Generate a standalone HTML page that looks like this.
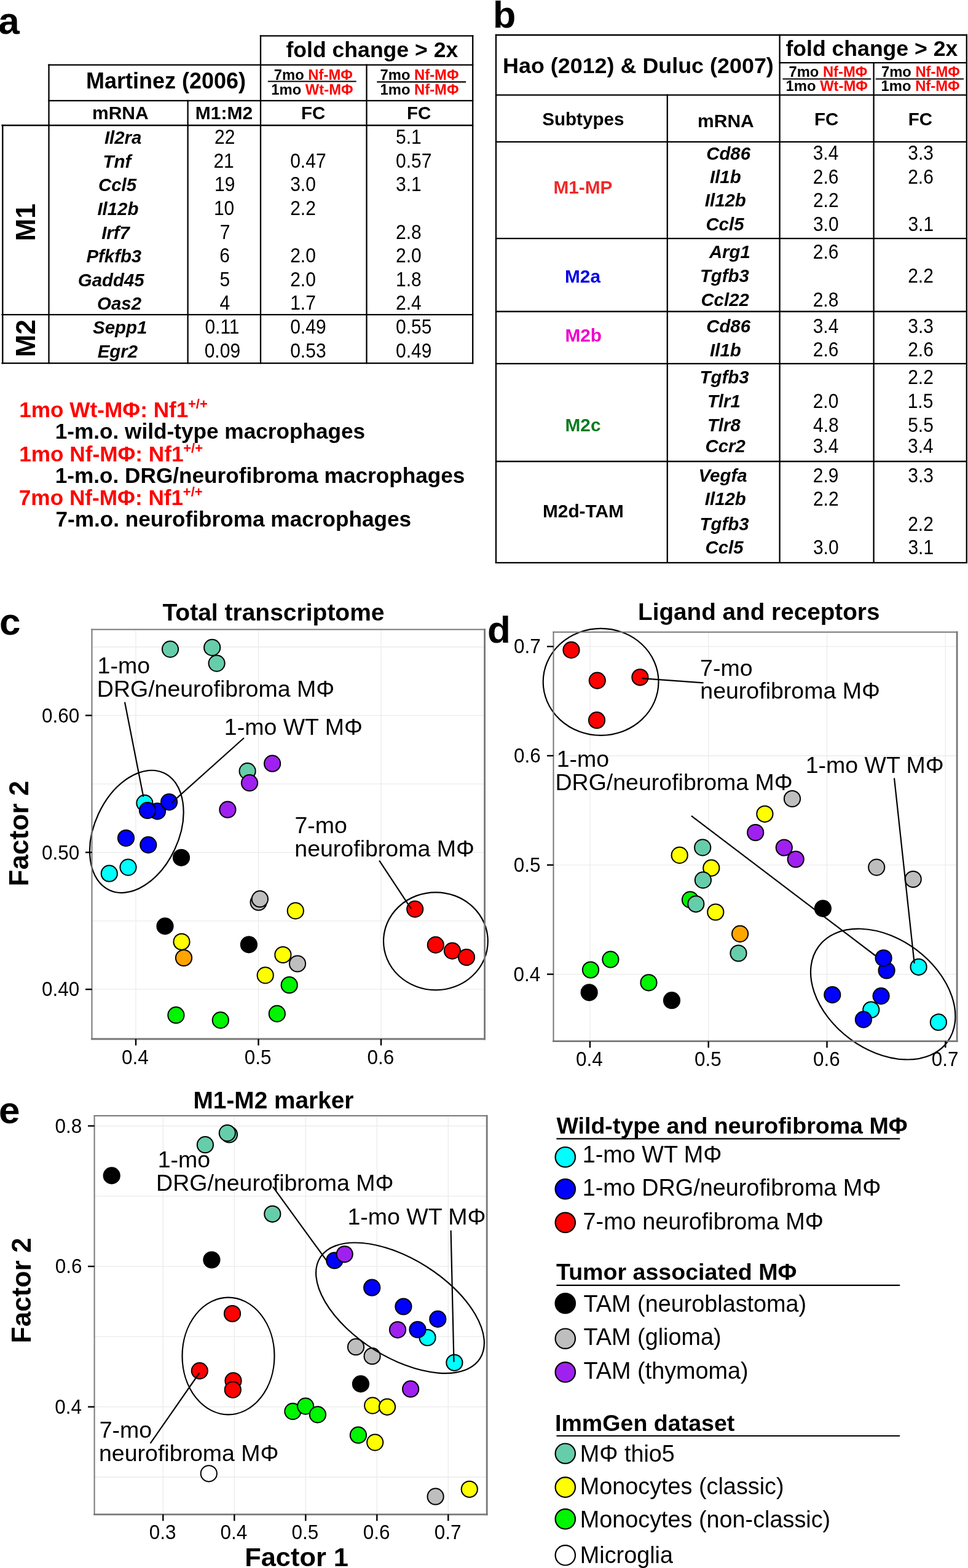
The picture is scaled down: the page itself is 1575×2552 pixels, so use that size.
<!DOCTYPE html>
<html><head><meta charset="utf-8"><title>Figure</title>
<style>html,body{margin:0;padding:0;background:#fff;overflow:hidden;width:1575px;height:2552px;}svg{display:block;}text{font-family:'Liberation Sans', Arial, Helvetica, sans-serif;}</style>
</head><body>
<svg width="1575" height="2552" viewBox="0 0 1575 2552">
<rect width="1575" height="2552" fill="#fff"/>
<text x="-2.8" y="54.5" font-size="62" font-weight="bold">a</text>
<line x1="424.0" y1="58.4" x2="769.2" y2="58.4" stroke="#000" stroke-width="2.3" stroke-linecap="square"/>
<line x1="79.5" y1="105.6" x2="769.2" y2="105.6" stroke="#000" stroke-width="2.3" stroke-linecap="square"/>
<line x1="79.5" y1="163.9" x2="769.2" y2="163.9" stroke="#000" stroke-width="2.3" stroke-linecap="square"/>
<line x1="3.5" y1="204.0" x2="769.2" y2="204.0" stroke="#000" stroke-width="2.3" stroke-linecap="square"/>
<line x1="3.5" y1="512.2" x2="769.2" y2="512.2" stroke="#000" stroke-width="2.3" stroke-linecap="square"/>
<line x1="3.5" y1="591.2" x2="769.2" y2="591.2" stroke="#000" stroke-width="2.3" stroke-linecap="square"/>
<line x1="4.3" y1="204.0" x2="4.3" y2="591.2" stroke="#000" stroke-width="2.3" stroke-linecap="square"/>
<line x1="79.5" y1="105.6" x2="79.5" y2="591.2" stroke="#000" stroke-width="2.3" stroke-linecap="square"/>
<line x1="305.6" y1="163.9" x2="305.6" y2="591.2" stroke="#000" stroke-width="2.3" stroke-linecap="square"/>
<line x1="424.0" y1="58.4" x2="424.0" y2="591.2" stroke="#000" stroke-width="2.3" stroke-linecap="square"/>
<line x1="596.5" y1="105.6" x2="596.5" y2="591.2" stroke="#000" stroke-width="2.3" stroke-linecap="square"/>
<line x1="769.2" y1="58.4" x2="769.2" y2="591.2" stroke="#000" stroke-width="2.3" stroke-linecap="square"/>
<text x="465.5" y="93.0" font-size="35.6" font-weight="bold">fold change &gt; 2x</text>
<text x="139.9" y="144.4" font-size="36" font-weight="bold">Martinez (2006)</text>
<text x="150.0" y="193.8" font-size="30" font-weight="bold">mRNA</text>
<text x="317.8" y="193.8" font-size="30" font-weight="bold">M1:M2</text>
<text x="490.0" y="193.5" font-size="29.5" font-weight="bold">FC</text>
<text x="662.1" y="193.5" font-size="29.5" font-weight="bold">FC</text>
<text x="445.8" y="129.7" font-size="23.8" font-weight="bold">7mo <tspan fill="#f00">Nf-MΦ</tspan></text>
<text x="441.3" y="153.7" font-size="23.8" font-weight="bold">1mo <tspan fill="#f00">Wt-MΦ</tspan></text>
<line x1="435.8" y1="132.5" x2="579.7" y2="132.5" stroke="#000" stroke-width="2.1" stroke-linecap="butt"/>
<text x="618.5" y="130.2" font-size="23.8" font-weight="bold">7mo <tspan fill="#f00">Nf-MΦ</tspan></text>
<text x="618.5" y="154.2" font-size="23.8" font-weight="bold">1mo <tspan fill="#f00">Nf-MΦ</tspan></text>
<line x1="613.3" y1="133.4" x2="758.1" y2="133.4" stroke="#000" stroke-width="2.1" stroke-linecap="butt"/>
<text x="169.9" y="234.2" font-size="29.4" font-weight="bold" font-style="italic">Il2ra</text>
<text transform="translate(349.0 234.2) scale(1 1.09)" font-size="30">22</text>
<text transform="translate(644.1 234.2) scale(1 1.09)" font-size="30">5.1</text>
<text x="167.5" y="272.8" font-size="29.4" font-weight="bold" font-style="italic">Tnf</text>
<text transform="translate(347.4 272.8) scale(1 1.09)" font-size="30">21</text>
<text transform="translate(472.2 272.8) scale(1 1.09)" font-size="30">0.47</text>
<text transform="translate(644.1 272.8) scale(1 1.09)" font-size="30">0.57</text>
<text x="160.0" y="311.4" font-size="29.4" font-weight="bold" font-style="italic">Ccl5</text>
<text transform="translate(349.0 311.4) scale(1 1.09)" font-size="30">19</text>
<text transform="translate(472.2 311.4) scale(1 1.09)" font-size="30">3.0</text>
<text transform="translate(644.1 311.4) scale(1 1.09)" font-size="30">3.1</text>
<text x="158.4" y="350.0" font-size="29.4" font-weight="bold" font-style="italic">Il12b</text>
<text transform="translate(347.9 350.0) scale(1 1.09)" font-size="30">10</text>
<text transform="translate(472.2 350.0) scale(1 1.09)" font-size="30">2.2</text>
<text x="165.2" y="388.6" font-size="29.4" font-weight="bold" font-style="italic">Irf7</text>
<text transform="translate(357.8 388.6) scale(1 1.09)" font-size="30">7</text>
<text transform="translate(644.1 388.6) scale(1 1.09)" font-size="30">2.8</text>
<text x="140.4" y="427.2" font-size="29.4" font-weight="bold" font-style="italic">Pfkfb3</text>
<text transform="translate(357.3 427.2) scale(1 1.09)" font-size="30">6</text>
<text transform="translate(472.2 427.2) scale(1 1.09)" font-size="30">2.0</text>
<text transform="translate(644.1 427.2) scale(1 1.09)" font-size="30">2.0</text>
<text x="126.8" y="465.8" font-size="29.4" font-weight="bold" font-style="italic">Gadd45</text>
<text transform="translate(357.4 465.8) scale(1 1.09)" font-size="30">5</text>
<text transform="translate(472.2 465.8) scale(1 1.09)" font-size="30">2.0</text>
<text transform="translate(644.1 465.8) scale(1 1.09)" font-size="30">1.8</text>
<text x="158.1" y="504.4" font-size="29.4" font-weight="bold" font-style="italic">Oas2</text>
<text transform="translate(357.4 504.4) scale(1 1.09)" font-size="30">4</text>
<text transform="translate(472.2 504.4) scale(1 1.09)" font-size="30">1.7</text>
<text transform="translate(644.1 504.4) scale(1 1.09)" font-size="30">2.4</text>
<text x="151.1" y="543.0" font-size="29.4" font-weight="bold" font-style="italic">Sepp1</text>
<text transform="translate(333.4 543.0) scale(1 1.09)" font-size="30">0.11</text>
<text transform="translate(472.2 543.0) scale(1 1.09)" font-size="30">0.49</text>
<text transform="translate(644.1 543.0) scale(1 1.09)" font-size="30">0.55</text>
<text x="158.7" y="581.6" font-size="29.4" font-weight="bold" font-style="italic">Egr2</text>
<text transform="translate(332.7 581.6) scale(1 1.09)" font-size="30">0.09</text>
<text transform="translate(472.2 581.6) scale(1 1.09)" font-size="30">0.53</text>
<text transform="translate(644.1 581.6) scale(1 1.09)" font-size="30">0.49</text>
<text transform="translate(56.5 361.0) rotate(-90)" x="-31.5" y="0" font-size="44" font-weight="bold">M1</text>
<text transform="translate(56.5 550.1) rotate(-90)" x="-31.1" y="0" font-size="44" font-weight="bold">M2</text>
<text x="31.2" y="679.4" font-size="35.2" font-weight="bold" fill="#f00">1mo Wt-MΦ: Nf1</text>
<text x="306.0" y="665.4" font-size="22" font-weight="bold" fill="#f00">+/+</text>
<text x="89.7" y="714.2" font-size="35.2" font-weight="bold">1-m.o. wild-type macrophages</text>
<text x="31.2" y="750.6" font-size="35.2" font-weight="bold" fill="#f00">1mo Nf-MΦ: Nf1</text>
<text x="298.2" y="736.6" font-size="22" font-weight="bold" fill="#f00">+/+</text>
<text x="89.7" y="786.2" font-size="35.2" font-weight="bold">1-m.o. DRG/neurofibroma macrophages</text>
<text x="30.8" y="822.1" font-size="35.2" font-weight="bold" fill="#f00">7mo Nf-MΦ: Nf1</text>
<text x="297.8" y="808.1" font-size="22" font-weight="bold" fill="#f00">+/+</text>
<text x="90.4" y="857.2" font-size="35.2" font-weight="bold">7-m.o. neurofibroma macrophages</text>
<text x="802.1" y="45.0" font-size="61" font-weight="bold">b</text>
<line x1="807.0" y1="57.0" x2="1572.8" y2="57.0" stroke="#000" stroke-width="2.3" stroke-linecap="square"/>
<line x1="1268.6" y1="102.2" x2="1572.8" y2="102.2" stroke="#000" stroke-width="2.3" stroke-linecap="square"/>
<line x1="807.0" y1="154.6" x2="1572.8" y2="154.6" stroke="#000" stroke-width="2.3" stroke-linecap="square"/>
<line x1="807.0" y1="230.8" x2="1572.8" y2="230.8" stroke="#000" stroke-width="2.3" stroke-linecap="square"/>
<line x1="807.0" y1="388.2" x2="1572.8" y2="388.2" stroke="#000" stroke-width="2.3" stroke-linecap="square"/>
<line x1="807.0" y1="507.0" x2="1572.8" y2="507.0" stroke="#000" stroke-width="2.3" stroke-linecap="square"/>
<line x1="807.0" y1="591.8" x2="1572.8" y2="591.8" stroke="#000" stroke-width="2.3" stroke-linecap="square"/>
<line x1="807.0" y1="751.0" x2="1572.8" y2="751.0" stroke="#000" stroke-width="2.3" stroke-linecap="square"/>
<line x1="807.0" y1="915.8" x2="1572.8" y2="915.8" stroke="#000" stroke-width="2.3" stroke-linecap="square"/>
<line x1="807.0" y1="57.0" x2="807.0" y2="915.8" stroke="#000" stroke-width="2.3" stroke-linecap="square"/>
<line x1="1268.6" y1="57.0" x2="1268.6" y2="915.8" stroke="#000" stroke-width="2.3" stroke-linecap="square"/>
<line x1="1421.6" y1="102.2" x2="1421.6" y2="915.8" stroke="#000" stroke-width="2.3" stroke-linecap="square"/>
<line x1="1572.8" y1="57.0" x2="1572.8" y2="915.8" stroke="#000" stroke-width="2.3" stroke-linecap="square"/>
<line x1="1085.8" y1="154.6" x2="1085.8" y2="915.8" stroke="#000" stroke-width="2.3" stroke-linecap="square"/>
<text x="818.0" y="118.7" font-size="35.9" font-weight="bold">Hao (2012) &amp; Duluc (2007)</text>
<text x="1278.5" y="90.6" font-size="35.6" font-weight="bold">fold change &gt; 2x</text>
<text x="1283.4" y="124.6" font-size="23.8" font-weight="bold">7mo <tspan fill="#f00">Nf-MΦ</tspan></text>
<text x="1278.6" y="148.3" font-size="23.8" font-weight="bold">1mo <tspan fill="#f00">Wt-MΦ</tspan></text>
<line x1="1273.5" y1="128.5" x2="1417.3" y2="128.5" stroke="#000" stroke-width="2.1" stroke-linecap="butt"/>
<text x="1433.9" y="124.6" font-size="23.8" font-weight="bold">7mo <tspan fill="#f00">Nf-MΦ</tspan></text>
<text x="1433.6" y="148.3" font-size="23.8" font-weight="bold">1mo <tspan fill="#f00">Nf-MΦ</tspan></text>
<line x1="1424.6" y1="128.5" x2="1568.0" y2="128.5" stroke="#000" stroke-width="2.1" stroke-linecap="butt"/>
<text x="882.2" y="203.5" font-size="29.6" font-weight="bold">Subtypes</text>
<text x="1135.1" y="206.7" font-size="30" font-weight="bold">mRNA</text>
<text x="1325.0" y="203.5" font-size="29.5" font-weight="bold">FC</text>
<text x="1477.8" y="203.5" font-size="29.5" font-weight="bold">FC</text>
<text x="1149.2" y="259.6" font-size="29.4" font-weight="bold" font-style="italic">Cd86</text>
<text transform="translate(1322.7 260.4) scale(1 1.09)" font-size="30">3.4</text>
<text transform="translate(1477.3 260.4) scale(1 1.09)" font-size="30">3.3</text>
<text x="1155.0" y="298.1" font-size="29.4" font-weight="bold" font-style="italic">Il1b</text>
<text transform="translate(1322.8 298.9) scale(1 1.09)" font-size="30">2.6</text>
<text transform="translate(1477.2 298.9) scale(1 1.09)" font-size="30">2.6</text>
<text x="1146.8" y="336.2" font-size="29.4" font-weight="bold" font-style="italic">Il12b</text>
<text transform="translate(1322.9 337.0) scale(1 1.09)" font-size="30">2.2</text>
<text x="1148.4" y="374.8" font-size="29.4" font-weight="bold" font-style="italic">Ccl5</text>
<text transform="translate(1322.9 375.6) scale(1 1.09)" font-size="30">3.0</text>
<text transform="translate(1477.4 375.6) scale(1 1.09)" font-size="30">3.1</text>
<text x="1153.9" y="419.8" font-size="29.4" font-weight="bold" font-style="italic">Arg1</text>
<text transform="translate(1322.8 420.6) scale(1 1.09)" font-size="30">2.6</text>
<text x="1138.9" y="459.0" font-size="29.4" font-weight="bold" font-style="italic">Tgfb3</text>
<text transform="translate(1477.2 459.8) scale(1 1.09)" font-size="30">2.2</text>
<text x="1140.4" y="498.3" font-size="29.4" font-weight="bold" font-style="italic">Ccl22</text>
<text transform="translate(1322.7 499.1) scale(1 1.09)" font-size="30">2.8</text>
<text x="1149.2" y="540.8" font-size="29.4" font-weight="bold" font-style="italic">Cd86</text>
<text transform="translate(1322.7 541.6) scale(1 1.09)" font-size="30">3.4</text>
<text transform="translate(1477.3 541.6) scale(1 1.09)" font-size="30">3.3</text>
<text x="1155.1" y="579.6" font-size="29.4" font-weight="bold" font-style="italic">Il1b</text>
<text transform="translate(1322.8 580.4) scale(1 1.09)" font-size="30">2.6</text>
<text transform="translate(1477.2 580.4) scale(1 1.09)" font-size="30">2.6</text>
<text x="1138.5" y="624.0" font-size="29.4" font-weight="bold" font-style="italic">Tgfb3</text>
<text transform="translate(1477.2 624.8) scale(1 1.09)" font-size="30">2.2</text>
<text x="1150.9" y="663.0" font-size="29.4" font-weight="bold" font-style="italic">Tlr1</text>
<text transform="translate(1322.7 663.8) scale(1 1.09)" font-size="30">2.0</text>
<text transform="translate(1476.7 663.8) scale(1 1.09)" font-size="30">1.5</text>
<text x="1150.9" y="702.0" font-size="29.4" font-weight="bold" font-style="italic">Tlr8</text>
<text transform="translate(1323.1 702.8) scale(1 1.09)" font-size="30">4.8</text>
<text transform="translate(1477.2 702.8) scale(1 1.09)" font-size="30">5.5</text>
<text x="1147.5" y="735.7" font-size="29.4" font-weight="bold" font-style="italic">Ccr2</text>
<text transform="translate(1322.7 736.5) scale(1 1.09)" font-size="30">3.4</text>
<text transform="translate(1477.1 736.5) scale(1 1.09)" font-size="30">3.4</text>
<text x="1136.6" y="784.0" font-size="29.4" font-weight="bold" font-style="italic">Vegfa</text>
<text transform="translate(1322.8 784.8) scale(1 1.09)" font-size="30">2.9</text>
<text transform="translate(1477.3 784.8) scale(1 1.09)" font-size="30">3.3</text>
<text x="1146.8" y="822.4" font-size="29.4" font-weight="bold" font-style="italic">Il12b</text>
<text transform="translate(1322.9 823.2) scale(1 1.09)" font-size="30">2.2</text>
<text x="1138.5" y="862.9" font-size="29.4" font-weight="bold" font-style="italic">Tgfb3</text>
<text transform="translate(1477.2 863.7) scale(1 1.09)" font-size="30">2.2</text>
<text x="1147.5" y="900.8" font-size="29.4" font-weight="bold" font-style="italic">Ccl5</text>
<text transform="translate(1322.9 901.6) scale(1 1.09)" font-size="30">3.0</text>
<text transform="translate(1477.4 901.6) scale(1 1.09)" font-size="30">3.1</text>
<text x="900.4" y="315.2" font-size="29.8" font-weight="bold" fill="#f02828">M1-MP</text>
<text x="919.0" y="459.5" font-size="29.8" font-weight="bold" fill="#0000e6">M2a</text>
<text x="919.4" y="555.8" font-size="29.8" font-weight="bold" fill="#ee00cc">M2b</text>
<text x="919.5" y="701.9" font-size="29.8" font-weight="bold" fill="#0b7a22">M2c</text>
<text x="883.0" y="842.0" font-size="29.8" font-weight="bold">M2d-TAM</text>
<text x="-1.0" y="1032.5" font-size="62" font-weight="bold">c</text>
<text x="264.4" y="1009.5" font-size="39" font-weight="bold">Total transcriptome</text>
<rect x="149.5" y="1024.6" width="639.1" height="666.4000000000001" fill="#fff"/>
<line x1="221.0" y1="1024.6" x2="221.0" y2="1691.0" stroke="#ebebeb" stroke-width="1.3" stroke-linecap="butt"/>
<line x1="420.5" y1="1024.6" x2="420.5" y2="1691.0" stroke="#ebebeb" stroke-width="1.3" stroke-linecap="butt"/>
<line x1="620.0" y1="1024.6" x2="620.0" y2="1691.0" stroke="#ebebeb" stroke-width="1.3" stroke-linecap="butt"/>
<line x1="149.5" y1="1053.0" x2="788.6" y2="1053.0" stroke="#ebebeb" stroke-width="1.3" stroke-linecap="butt"/>
<line x1="149.5" y1="1164.4" x2="788.6" y2="1164.4" stroke="#ebebeb" stroke-width="1.3" stroke-linecap="butt"/>
<line x1="149.5" y1="1275.8" x2="788.6" y2="1275.8" stroke="#ebebeb" stroke-width="1.3" stroke-linecap="butt"/>
<line x1="149.5" y1="1387.3" x2="788.6" y2="1387.3" stroke="#ebebeb" stroke-width="1.3" stroke-linecap="butt"/>
<line x1="149.5" y1="1498.8" x2="788.6" y2="1498.8" stroke="#ebebeb" stroke-width="1.3" stroke-linecap="butt"/>
<line x1="149.5" y1="1610.2" x2="788.6" y2="1610.2" stroke="#ebebeb" stroke-width="1.3" stroke-linecap="butt"/>
<circle cx="277.0" cy="1056.6" r="13.1" fill="#66cdaa" stroke="#000" stroke-width="2.0"/>
<circle cx="345.2" cy="1053.9" r="13.1" fill="#66cdaa" stroke="#000" stroke-width="2.0"/>
<circle cx="352.6" cy="1079.6" r="13.1" fill="#66cdaa" stroke="#000" stroke-width="2.0"/>
<circle cx="402.6" cy="1255.1" r="13.1" fill="#66cdaa" stroke="#000" stroke-width="2.0"/>
<circle cx="406.0" cy="1274.2" r="13.1" fill="#a020f0" stroke="#000" stroke-width="2.0"/>
<circle cx="443.1" cy="1242.7" r="13.1" fill="#a020f0" stroke="#000" stroke-width="2.0"/>
<circle cx="370.4" cy="1317.7" r="13.1" fill="#a020f0" stroke="#000" stroke-width="2.0"/>
<circle cx="235.4" cy="1307.1" r="13.1" fill="#00ffff" stroke="#000" stroke-width="2.0"/>
<circle cx="256.0" cy="1320.4" r="13.1" fill="#0000ff" stroke="#000" stroke-width="2.0"/>
<circle cx="275.1" cy="1305.3" r="13.1" fill="#0000ff" stroke="#000" stroke-width="2.0"/>
<circle cx="240.0" cy="1319.0" r="13.1" fill="#0000ff" stroke="#000" stroke-width="2.0"/>
<circle cx="205.0" cy="1364.0" r="13.1" fill="#0000ff" stroke="#000" stroke-width="2.0"/>
<circle cx="241.3" cy="1375.1" r="13.1" fill="#0000ff" stroke="#000" stroke-width="2.0"/>
<circle cx="208.5" cy="1411.6" r="13.1" fill="#00ffff" stroke="#000" stroke-width="2.0"/>
<circle cx="177.8" cy="1421.7" r="13.1" fill="#00ffff" stroke="#000" stroke-width="2.0"/>
<circle cx="295.0" cy="1395.8" r="13.1" fill="#000000" stroke="#000" stroke-width="2.0"/>
<circle cx="268.5" cy="1507.4" r="13.1" fill="#000000" stroke="#000" stroke-width="2.0"/>
<circle cx="404.9" cy="1537.4" r="13.1" fill="#000000" stroke="#000" stroke-width="2.0"/>
<circle cx="420.6" cy="1468.5" r="13.1" fill="#bebebe" stroke="#000" stroke-width="2.0"/>
<circle cx="422.9" cy="1463.2" r="13.1" fill="#bebebe" stroke="#000" stroke-width="2.0"/>
<circle cx="295.5" cy="1532.8" r="13.1" fill="#ffff00" stroke="#000" stroke-width="2.0"/>
<circle cx="299.0" cy="1559.0" r="13.1" fill="#ffa500" stroke="#000" stroke-width="2.0"/>
<circle cx="480.8" cy="1482.4" r="13.1" fill="#ffff00" stroke="#000" stroke-width="2.0"/>
<circle cx="460.4" cy="1554.0" r="13.1" fill="#ffff00" stroke="#000" stroke-width="2.0"/>
<circle cx="484.0" cy="1568.5" r="13.1" fill="#bebebe" stroke="#000" stroke-width="2.0"/>
<circle cx="431.7" cy="1587.4" r="13.1" fill="#ffff00" stroke="#000" stroke-width="2.0"/>
<circle cx="470.7" cy="1603.2" r="13.1" fill="#00f500" stroke="#000" stroke-width="2.0"/>
<circle cx="286.4" cy="1652.2" r="13.1" fill="#00f500" stroke="#000" stroke-width="2.0"/>
<circle cx="358.8" cy="1660.4" r="13.1" fill="#00f500" stroke="#000" stroke-width="2.0"/>
<circle cx="450.8" cy="1649.9" r="13.1" fill="#00f500" stroke="#000" stroke-width="2.0"/>
<circle cx="675.2" cy="1479.6" r="13.1" fill="#ff0000" stroke="#000" stroke-width="2.0"/>
<circle cx="708.8" cy="1537.9" r="13.1" fill="#ff0000" stroke="#000" stroke-width="2.0"/>
<circle cx="735.9" cy="1547.6" r="13.1" fill="#ff0000" stroke="#000" stroke-width="2.0"/>
<circle cx="759.0" cy="1558.0" r="13.1" fill="#ff0000" stroke="#000" stroke-width="2.0"/>
<ellipse cx="222.3" cy="1353.4" rx="68.4" ry="105.2" transform="rotate(24.96 222.3 1353.4)" fill="none" stroke="#000" stroke-width="2.2"/>
<ellipse cx="708.9" cy="1531.8" rx="84.9" ry="79.5" transform="rotate(0.00 708.9 1531.8)" fill="none" stroke="#000" stroke-width="2.2"/>
<line x1="203.0" y1="1142.7" x2="233.3" y2="1296.7" stroke="#000" stroke-width="2.2" stroke-linecap="butt"/>
<line x1="397.0" y1="1201.0" x2="279.4" y2="1306.4" stroke="#000" stroke-width="2.2" stroke-linecap="butt"/>
<line x1="617.1" y1="1400.6" x2="668.8" y2="1478.9" stroke="#000" stroke-width="2.2" stroke-linecap="butt"/>
<text x="158.6" y="1096.2" font-size="37.5">1-mo</text>
<text x="157.8" y="1134.0" font-size="37.5">DRG/neurofibroma MΦ</text>
<text x="364.8" y="1196.3" font-size="37.5">1-mo WT MΦ</text>
<text x="479.4" y="1356.0" font-size="37.5">7-mo</text>
<text x="479.3" y="1393.7" font-size="37.5">neurofibroma MΦ</text>
<line x1="149.5" y1="1024.6" x2="788.6" y2="1024.6" stroke="#777777" stroke-width="2.0" stroke-linecap="square"/>
<line x1="149.5" y1="1024.6" x2="149.5" y2="1691.0" stroke="#777777" stroke-width="2.0" stroke-linecap="square"/>
<line x1="788.6" y1="1024.6" x2="788.6" y2="1691.0" stroke="#777777" stroke-width="2.8" stroke-linecap="square"/>
<line x1="149.5" y1="1691.0" x2="788.6" y2="1691.0" stroke="#777777" stroke-width="2.8" stroke-linecap="square"/>
<line x1="139.0" y1="1164.4" x2="149.5" y2="1164.4" stroke="#000" stroke-width="2.4" stroke-linecap="butt"/>
<text transform="translate(68.0 1175.6) scale(1 1.075)" font-size="31.5">0.60</text>
<line x1="139.0" y1="1387.3" x2="149.5" y2="1387.3" stroke="#000" stroke-width="2.4" stroke-linecap="butt"/>
<text transform="translate(68.0 1398.5) scale(1 1.075)" font-size="31.5">0.50</text>
<line x1="139.0" y1="1610.2" x2="149.5" y2="1610.2" stroke="#000" stroke-width="2.4" stroke-linecap="butt"/>
<text transform="translate(68.0 1621.4) scale(1 1.075)" font-size="31.5">0.40</text>
<line x1="221.0" y1="1691.0" x2="221.0" y2="1701.5" stroke="#000" stroke-width="2.4" stroke-linecap="butt"/>
<text transform="translate(198.1 1731.7) scale(1 1.075)" font-size="31.5">0.4</text>
<line x1="420.5" y1="1691.0" x2="420.5" y2="1701.5" stroke="#000" stroke-width="2.4" stroke-linecap="butt"/>
<text transform="translate(397.8 1731.7) scale(1 1.075)" font-size="31.5">0.5</text>
<line x1="620.0" y1="1691.0" x2="620.0" y2="1701.5" stroke="#000" stroke-width="2.4" stroke-linecap="butt"/>
<text transform="translate(597.4 1731.7) scale(1 1.075)" font-size="31.5">0.6</text>
<text transform="translate(46.4 1356.1) rotate(-90)" x="-86.5" y="0" font-size="44.2" font-weight="bold">Factor 2</text>
<text x="792.9" y="1046.0" font-size="62" font-weight="bold">d</text>
<text x="1038.0" y="1009.0" font-size="38.7" font-weight="bold">Ligand and receptors</text>
<rect x="900.5" y="1028.8" width="656.5999999999999" height="665.9000000000001" fill="#fff"/>
<line x1="959.9" y1="1028.8" x2="959.9" y2="1694.7" stroke="#ebebeb" stroke-width="1.3" stroke-linecap="butt"/>
<line x1="1152.7" y1="1028.8" x2="1152.7" y2="1694.7" stroke="#ebebeb" stroke-width="1.3" stroke-linecap="butt"/>
<line x1="1345.5" y1="1028.8" x2="1345.5" y2="1694.7" stroke="#ebebeb" stroke-width="1.3" stroke-linecap="butt"/>
<line x1="1538.3" y1="1028.8" x2="1538.3" y2="1694.7" stroke="#ebebeb" stroke-width="1.3" stroke-linecap="butt"/>
<line x1="900.5" y1="1052.2" x2="1557.1" y2="1052.2" stroke="#ebebeb" stroke-width="1.3" stroke-linecap="butt"/>
<line x1="900.5" y1="1230.0" x2="1557.1" y2="1230.0" stroke="#ebebeb" stroke-width="1.3" stroke-linecap="butt"/>
<line x1="900.5" y1="1407.8" x2="1557.1" y2="1407.8" stroke="#ebebeb" stroke-width="1.3" stroke-linecap="butt"/>
<line x1="900.5" y1="1585.6" x2="1557.1" y2="1585.6" stroke="#ebebeb" stroke-width="1.3" stroke-linecap="butt"/>
<circle cx="929.5" cy="1057.9" r="13.1" fill="#ff0000" stroke="#000" stroke-width="2.0"/>
<circle cx="971.8" cy="1107.6" r="13.1" fill="#ff0000" stroke="#000" stroke-width="2.0"/>
<circle cx="1041.4" cy="1102.3" r="13.1" fill="#ff0000" stroke="#000" stroke-width="2.0"/>
<circle cx="971.0" cy="1172.2" r="13.1" fill="#ff0000" stroke="#000" stroke-width="2.0"/>
<circle cx="1289.0" cy="1300.0" r="13.1" fill="#bebebe" stroke="#000" stroke-width="2.0"/>
<circle cx="1244.4" cy="1324.8" r="13.1" fill="#ffff00" stroke="#000" stroke-width="2.0"/>
<circle cx="1229.2" cy="1355.0" r="13.1" fill="#a020f0" stroke="#000" stroke-width="2.0"/>
<circle cx="1275.8" cy="1379.5" r="13.1" fill="#a020f0" stroke="#000" stroke-width="2.0"/>
<circle cx="1294.7" cy="1398.5" r="13.1" fill="#a020f0" stroke="#000" stroke-width="2.0"/>
<circle cx="1426.2" cy="1411.6" r="13.1" fill="#bebebe" stroke="#000" stroke-width="2.0"/>
<circle cx="1485.7" cy="1431.0" r="13.1" fill="#bebebe" stroke="#000" stroke-width="2.0"/>
<circle cx="1338.9" cy="1478.6" r="13.1" fill="#000000" stroke="#000" stroke-width="2.0"/>
<circle cx="1105.7" cy="1391.9" r="13.1" fill="#ffff00" stroke="#000" stroke-width="2.0"/>
<circle cx="1143.2" cy="1379.4" r="13.1" fill="#66cdaa" stroke="#000" stroke-width="2.0"/>
<circle cx="1157.3" cy="1412.7" r="13.1" fill="#ffff00" stroke="#000" stroke-width="2.0"/>
<circle cx="1143.9" cy="1432.4" r="13.1" fill="#66cdaa" stroke="#000" stroke-width="2.0"/>
<circle cx="1123.0" cy="1464.4" r="13.1" fill="#00f500" stroke="#000" stroke-width="2.0"/>
<circle cx="1132.3" cy="1471.3" r="13.1" fill="#66cdaa" stroke="#000" stroke-width="2.0"/>
<circle cx="1164.3" cy="1484.5" r="13.1" fill="#ffff00" stroke="#000" stroke-width="2.0"/>
<circle cx="1204.1" cy="1519.9" r="13.1" fill="#ffa500" stroke="#000" stroke-width="2.0"/>
<circle cx="1201.5" cy="1551.5" r="13.1" fill="#66cdaa" stroke="#000" stroke-width="2.0"/>
<circle cx="993.4" cy="1561.6" r="13.1" fill="#00f500" stroke="#000" stroke-width="2.0"/>
<circle cx="961.0" cy="1578.5" r="13.1" fill="#00f500" stroke="#000" stroke-width="2.0"/>
<circle cx="958.7" cy="1615.3" r="13.1" fill="#000000" stroke="#000" stroke-width="2.0"/>
<circle cx="1055.5" cy="1599.3" r="13.1" fill="#00f500" stroke="#000" stroke-width="2.0"/>
<circle cx="1093.0" cy="1628.2" r="13.1" fill="#000000" stroke="#000" stroke-width="2.0"/>
<circle cx="1442.6" cy="1579.5" r="13.1" fill="#0000ff" stroke="#000" stroke-width="2.0"/>
<circle cx="1437.6" cy="1559.3" r="13.1" fill="#0000ff" stroke="#000" stroke-width="2.0"/>
<circle cx="1494.6" cy="1573.8" r="13.1" fill="#00ffff" stroke="#000" stroke-width="2.0"/>
<circle cx="1354.3" cy="1619.1" r="13.1" fill="#0000ff" stroke="#000" stroke-width="2.0"/>
<circle cx="1417.3" cy="1643.5" r="13.1" fill="#00ffff" stroke="#000" stroke-width="2.0"/>
<circle cx="1433.6" cy="1621.1" r="13.1" fill="#0000ff" stroke="#000" stroke-width="2.0"/>
<circle cx="1404.9" cy="1659.4" r="13.1" fill="#0000ff" stroke="#000" stroke-width="2.0"/>
<circle cx="1526.9" cy="1663.7" r="13.1" fill="#00ffff" stroke="#000" stroke-width="2.0"/>
<ellipse cx="977.6" cy="1109.8" rx="93.9" ry="87.0" transform="rotate(0.00 977.6 1109.8)" fill="none" stroke="#000" stroke-width="2.2"/>
<ellipse cx="1436.7" cy="1618.1" rx="130.4" ry="90.4" transform="rotate(36.67 1436.7 1618.1)" fill="none" stroke="#000" stroke-width="2.2"/>
<line x1="1044.6" y1="1104.2" x2="1144.6" y2="1111.3" stroke="#000" stroke-width="2.2" stroke-linecap="butt"/>
<line x1="1124.9" y1="1327.8" x2="1424.5" y2="1555.5" stroke="#000" stroke-width="2.2" stroke-linecap="butt"/>
<line x1="1455.0" y1="1266.4" x2="1487.7" y2="1567.9" stroke="#000" stroke-width="2.2" stroke-linecap="butt"/>
<text x="1139.1" y="1099.7" font-size="37.5">7-mo</text>
<text x="1139.3" y="1136.6" font-size="37.5">neurofibroma MΦ</text>
<text x="905.7" y="1248.4" font-size="37.5">1-mo</text>
<text x="903.5" y="1285.7" font-size="37.5">DRG/neurofibroma MΦ</text>
<text x="1310.7" y="1257.9" font-size="37.5">1-mo WT MΦ</text>
<line x1="900.5" y1="1028.8" x2="1557.1" y2="1028.8" stroke="#777777" stroke-width="2.0" stroke-linecap="square"/>
<line x1="900.5" y1="1028.8" x2="900.5" y2="1694.7" stroke="#777777" stroke-width="2.0" stroke-linecap="square"/>
<line x1="1557.1" y1="1028.8" x2="1557.1" y2="1694.7" stroke="#777777" stroke-width="2.8" stroke-linecap="square"/>
<line x1="900.5" y1="1694.7" x2="1557.1" y2="1694.7" stroke="#777777" stroke-width="2.8" stroke-linecap="square"/>
<line x1="890.0" y1="1052.2" x2="900.5" y2="1052.2" stroke="#000" stroke-width="2.4" stroke-linecap="butt"/>
<text transform="translate(836.1 1063.4) scale(1 1.075)" font-size="31.5">0.7</text>
<line x1="890.0" y1="1230.0" x2="900.5" y2="1230.0" stroke="#000" stroke-width="2.4" stroke-linecap="butt"/>
<text transform="translate(835.9 1241.2) scale(1 1.075)" font-size="31.5">0.6</text>
<line x1="890.0" y1="1407.8" x2="900.5" y2="1407.8" stroke="#000" stroke-width="2.4" stroke-linecap="butt"/>
<text transform="translate(835.8 1419.0) scale(1 1.075)" font-size="31.5">0.5</text>
<line x1="890.0" y1="1585.6" x2="900.5" y2="1585.6" stroke="#000" stroke-width="2.4" stroke-linecap="butt"/>
<text transform="translate(835.5 1596.8) scale(1 1.075)" font-size="31.5">0.4</text>
<line x1="959.9" y1="1694.7" x2="959.9" y2="1705.2" stroke="#000" stroke-width="2.4" stroke-linecap="butt"/>
<text transform="translate(937.1 1735.0) scale(1 1.075)" font-size="31.5">0.4</text>
<line x1="1152.7" y1="1694.7" x2="1152.7" y2="1705.2" stroke="#000" stroke-width="2.4" stroke-linecap="butt"/>
<text transform="translate(1130.0 1735.0) scale(1 1.075)" font-size="31.5">0.5</text>
<line x1="1345.5" y1="1694.7" x2="1345.5" y2="1705.2" stroke="#000" stroke-width="2.4" stroke-linecap="butt"/>
<text transform="translate(1322.9 1735.0) scale(1 1.075)" font-size="31.5">0.6</text>
<line x1="1538.3" y1="1694.7" x2="1538.3" y2="1705.2" stroke="#000" stroke-width="2.4" stroke-linecap="butt"/>
<text transform="translate(1515.8 1735.0) scale(1 1.075)" font-size="31.5">0.7</text>
<text x="-1.9" y="1827.5" font-size="62" font-weight="bold">e</text>
<text x="314.5" y="1804.3" font-size="38.8" font-weight="bold">M1-M2 marker</text>
<rect x="153.6" y="1816.1" width="638.6" height="648.7000000000003" fill="#fff"/>
<line x1="265.3" y1="1816.1" x2="265.3" y2="2464.8" stroke="#ebebeb" stroke-width="1.3" stroke-linecap="butt"/>
<line x1="381.3" y1="1816.1" x2="381.3" y2="2464.8" stroke="#ebebeb" stroke-width="1.3" stroke-linecap="butt"/>
<line x1="497.3" y1="1816.1" x2="497.3" y2="2464.8" stroke="#ebebeb" stroke-width="1.3" stroke-linecap="butt"/>
<line x1="613.3" y1="1816.1" x2="613.3" y2="2464.8" stroke="#ebebeb" stroke-width="1.3" stroke-linecap="butt"/>
<line x1="729.3" y1="1816.1" x2="729.3" y2="2464.8" stroke="#ebebeb" stroke-width="1.3" stroke-linecap="butt"/>
<line x1="153.6" y1="1832.5" x2="792.2" y2="1832.5" stroke="#ebebeb" stroke-width="1.3" stroke-linecap="butt"/>
<line x1="153.6" y1="1946.8" x2="792.2" y2="1946.8" stroke="#ebebeb" stroke-width="1.3" stroke-linecap="butt"/>
<line x1="153.6" y1="2061.1" x2="792.2" y2="2061.1" stroke="#ebebeb" stroke-width="1.3" stroke-linecap="butt"/>
<line x1="153.6" y1="2175.4" x2="792.2" y2="2175.4" stroke="#ebebeb" stroke-width="1.3" stroke-linecap="butt"/>
<line x1="153.6" y1="2289.7" x2="792.2" y2="2289.7" stroke="#ebebeb" stroke-width="1.3" stroke-linecap="butt"/>
<line x1="153.6" y1="2404.0" x2="792.2" y2="2404.0" stroke="#ebebeb" stroke-width="1.3" stroke-linecap="butt"/>
<circle cx="181.7" cy="1913.4" r="13.1" fill="#000000" stroke="#000" stroke-width="2.0"/>
<circle cx="333.9" cy="1863.2" r="13.1" fill="#66cdaa" stroke="#000" stroke-width="2.0"/>
<circle cx="373.0" cy="1846.5" r="13.1" fill="#66cdaa" stroke="#000" stroke-width="2.0"/>
<circle cx="369.8" cy="1844.1" r="13.1" fill="#66cdaa" stroke="#000" stroke-width="2.0"/>
<circle cx="443.3" cy="1975.8" r="13.1" fill="#66cdaa" stroke="#000" stroke-width="2.0"/>
<circle cx="344.4" cy="2050.5" r="13.1" fill="#000000" stroke="#000" stroke-width="2.0"/>
<circle cx="378.0" cy="2138.0" r="13.1" fill="#ff0000" stroke="#000" stroke-width="2.0"/>
<circle cx="324.8" cy="2231.1" r="13.1" fill="#ff0000" stroke="#000" stroke-width="2.0"/>
<circle cx="379.5" cy="2247.3" r="13.1" fill="#ff0000" stroke="#000" stroke-width="2.0"/>
<circle cx="378.8" cy="2261.9" r="13.1" fill="#ff0000" stroke="#000" stroke-width="2.0"/>
<circle cx="339.8" cy="2398.3" r="13.1" fill="#ffffff" stroke="#000" stroke-width="2.0"/>
<circle cx="544.3" cy="2051.5" r="13.1" fill="#0000ff" stroke="#000" stroke-width="2.0"/>
<circle cx="560.7" cy="2041.3" r="13.1" fill="#a020f0" stroke="#000" stroke-width="2.0"/>
<circle cx="605.2" cy="2095.7" r="13.1" fill="#0000ff" stroke="#000" stroke-width="2.0"/>
<circle cx="656.4" cy="2126.5" r="13.1" fill="#0000ff" stroke="#000" stroke-width="2.0"/>
<circle cx="712.3" cy="2146.9" r="13.1" fill="#0000ff" stroke="#000" stroke-width="2.0"/>
<circle cx="647.0" cy="2164.3" r="13.1" fill="#a020f0" stroke="#000" stroke-width="2.0"/>
<circle cx="695.5" cy="2177.0" r="13.1" fill="#00ffff" stroke="#000" stroke-width="2.0"/>
<circle cx="679.5" cy="2164.0" r="13.1" fill="#0000ff" stroke="#000" stroke-width="2.0"/>
<circle cx="579.0" cy="2192.2" r="13.1" fill="#bebebe" stroke="#000" stroke-width="2.0"/>
<circle cx="605.6" cy="2207.2" r="13.1" fill="#bebebe" stroke="#000" stroke-width="2.0"/>
<circle cx="739.4" cy="2217.8" r="13.1" fill="#00ffff" stroke="#000" stroke-width="2.0"/>
<circle cx="586.9" cy="2252.4" r="13.1" fill="#000000" stroke="#000" stroke-width="2.0"/>
<circle cx="668.1" cy="2260.7" r="13.1" fill="#a020f0" stroke="#000" stroke-width="2.0"/>
<circle cx="476.4" cy="2297.1" r="13.1" fill="#00f500" stroke="#000" stroke-width="2.0"/>
<circle cx="497.1" cy="2288.6" r="13.1" fill="#00f500" stroke="#000" stroke-width="2.0"/>
<circle cx="516.9" cy="2302.4" r="13.1" fill="#00f500" stroke="#000" stroke-width="2.0"/>
<circle cx="606.2" cy="2287.6" r="13.1" fill="#ffff00" stroke="#000" stroke-width="2.0"/>
<circle cx="630.0" cy="2289.8" r="13.1" fill="#ffff00" stroke="#000" stroke-width="2.0"/>
<circle cx="582.9" cy="2335.7" r="13.1" fill="#00f500" stroke="#000" stroke-width="2.0"/>
<circle cx="610.2" cy="2347.6" r="13.1" fill="#ffff00" stroke="#000" stroke-width="2.0"/>
<circle cx="708.6" cy="2435.7" r="13.1" fill="#bebebe" stroke="#000" stroke-width="2.0"/>
<circle cx="763.8" cy="2423.8" r="13.1" fill="#ffff00" stroke="#000" stroke-width="2.0"/>
<ellipse cx="371.5" cy="2207.0" rx="75.0" ry="95.3" transform="rotate(0.00 371.5 2207.0)" fill="none" stroke="#000" stroke-width="2.2"/>
<ellipse cx="651.0" cy="2128.8" rx="153.8" ry="79.9" transform="rotate(32.24 651.0 2128.8)" fill="none" stroke="#000" stroke-width="2.2"/>
<line x1="443.9" y1="1931.4" x2="532.8" y2="2053.6" stroke="#000" stroke-width="2.2" stroke-linecap="butt"/>
<line x1="733.6" y1="2002.5" x2="738.5" y2="2216.6" stroke="#000" stroke-width="2.2" stroke-linecap="butt"/>
<line x1="244.6" y1="2349.2" x2="324.4" y2="2234.5" stroke="#000" stroke-width="2.2" stroke-linecap="butt"/>
<text x="256.7" y="1900.2" font-size="37.5">1-mo</text>
<text x="254.1" y="1937.5" font-size="37.5">DRG/neurofibroma MΦ</text>
<text x="565.4" y="1992.5" font-size="37.5">1-mo WT MΦ</text>
<text x="161.7" y="2340.2" font-size="37.5">7-mo</text>
<text x="161.0" y="2377.7" font-size="37.5">neurofibroma MΦ</text>
<line x1="153.6" y1="1816.1" x2="792.2" y2="1816.1" stroke="#777777" stroke-width="2.0" stroke-linecap="square"/>
<line x1="153.6" y1="1816.1" x2="153.6" y2="2464.8" stroke="#777777" stroke-width="2.0" stroke-linecap="square"/>
<line x1="792.2" y1="1816.1" x2="792.2" y2="2464.8" stroke="#777777" stroke-width="2.8" stroke-linecap="square"/>
<line x1="153.6" y1="2464.8" x2="792.2" y2="2464.8" stroke="#777777" stroke-width="2.8" stroke-linecap="square"/>
<line x1="143.1" y1="1832.5" x2="153.6" y2="1832.5" stroke="#000" stroke-width="2.4" stroke-linecap="butt"/>
<text transform="translate(89.6 1843.7) scale(1 1.075)" font-size="31.5">0.8</text>
<line x1="143.1" y1="2061.1" x2="153.6" y2="2061.1" stroke="#000" stroke-width="2.4" stroke-linecap="butt"/>
<text transform="translate(89.7 2072.3) scale(1 1.075)" font-size="31.5">0.6</text>
<line x1="143.1" y1="2289.7" x2="153.6" y2="2289.7" stroke="#000" stroke-width="2.4" stroke-linecap="butt"/>
<text transform="translate(89.3 2300.9) scale(1 1.075)" font-size="31.5">0.4</text>
<line x1="265.3" y1="2464.8" x2="265.3" y2="2475.3" stroke="#000" stroke-width="2.4" stroke-linecap="butt"/>
<text transform="translate(242.7 2505.2) scale(1 1.075)" font-size="31.5">0.3</text>
<line x1="381.3" y1="2464.8" x2="381.3" y2="2475.3" stroke="#000" stroke-width="2.4" stroke-linecap="butt"/>
<text transform="translate(358.5 2505.2) scale(1 1.075)" font-size="31.5">0.4</text>
<line x1="497.3" y1="2464.8" x2="497.3" y2="2475.3" stroke="#000" stroke-width="2.4" stroke-linecap="butt"/>
<text transform="translate(474.6 2505.2) scale(1 1.075)" font-size="31.5">0.5</text>
<line x1="613.3" y1="2464.8" x2="613.3" y2="2475.3" stroke="#000" stroke-width="2.4" stroke-linecap="butt"/>
<text transform="translate(590.7 2505.2) scale(1 1.075)" font-size="31.5">0.6</text>
<line x1="729.3" y1="2464.8" x2="729.3" y2="2475.3" stroke="#000" stroke-width="2.4" stroke-linecap="butt"/>
<text transform="translate(706.8 2505.2) scale(1 1.075)" font-size="31.5">0.7</text>
<text transform="translate(50.4 2099.8) rotate(-90)" x="-86.5" y="0" font-size="44.2" font-weight="bold">Factor 2</text>
<text x="398.2" y="2549.0" font-size="43.4" font-weight="bold">Factor 1</text>
<text x="905.4" y="1845.1" font-size="37.6" font-weight="bold">Wild-type and neurofibroma MΦ</text>
<line x1="905.4" y1="1853.3" x2="1464.2" y2="1853.3" stroke="#000" stroke-width="2.2" stroke-linecap="butt"/>
<circle cx="919.8" cy="1883.2" r="16.2" fill="#00ffff" stroke="#000" stroke-width="2.2"/>
<text transform="translate(947.7 1891.5) scale(1 1.04)" font-size="37.8">1-mo WT MΦ</text>
<circle cx="919.8" cy="1935.3" r="16.2" fill="#0000ff" stroke="#000" stroke-width="2.2"/>
<text transform="translate(947.7 1946.1) scale(1 1.04)" font-size="37.8">1-mo DRG/neurofibroma MΦ</text>
<circle cx="919.8" cy="1989.8" r="16.2" fill="#ff0000" stroke="#000" stroke-width="2.2"/>
<text transform="translate(948.6 2000.5) scale(1 1.04)" font-size="37.8">7-mo neurofibroma MΦ</text>
<text x="905.0" y="2082.9" font-size="37.6" font-weight="bold">Tumor associated MΦ</text>
<line x1="905.4" y1="2091.9" x2="1464.2" y2="2091.9" stroke="#000" stroke-width="2.2" stroke-linecap="butt"/>
<circle cx="919.8" cy="2121.2" r="16.2" fill="#000000" stroke="#000" stroke-width="2.2"/>
<text transform="translate(949.6 2134.6) scale(1 1.04)" font-size="37.8">TAM (neuroblastoma)</text>
<circle cx="919.8" cy="2178.7" r="16.2" fill="#bebebe" stroke="#000" stroke-width="2.2"/>
<text transform="translate(949.6 2188.7) scale(1 1.04)" font-size="37.8">TAM (glioma)</text>
<circle cx="919.8" cy="2233.3" r="16.2" fill="#a020f0" stroke="#000" stroke-width="2.2"/>
<text transform="translate(949.6 2244.0) scale(1 1.04)" font-size="37.8">TAM (thymoma)</text>
<text x="903.0" y="2328.8" font-size="37.6" font-weight="bold">ImmGen dataset</text>
<line x1="905.4" y1="2337.0" x2="1464.2" y2="2337.0" stroke="#000" stroke-width="2.2" stroke-linecap="butt"/>
<circle cx="919.8" cy="2365.7" r="16.2" fill="#66cdaa" stroke="#000" stroke-width="2.2"/>
<text transform="translate(943.8 2378.5) scale(1 1.04)" font-size="37.8">MΦ thio5</text>
<circle cx="919.8" cy="2420.6" r="16.2" fill="#ffff00" stroke="#000" stroke-width="2.2"/>
<text transform="translate(943.8 2431.8) scale(1 1.04)" font-size="37.8">Monocytes (classic)</text>
<circle cx="919.8" cy="2472.3" r="16.2" fill="#00f500" stroke="#000" stroke-width="2.2"/>
<text transform="translate(943.8 2485.9) scale(1 1.04)" font-size="37.8">Monocytes (non-classic)</text>
<circle cx="919.8" cy="2531.3" r="16.2" fill="#ffffff" stroke="#000" stroke-width="2.2"/>
<text transform="translate(943.8 2544.1) scale(1 1.04)" font-size="37.8">Microglia</text>
</svg>
</body></html>
